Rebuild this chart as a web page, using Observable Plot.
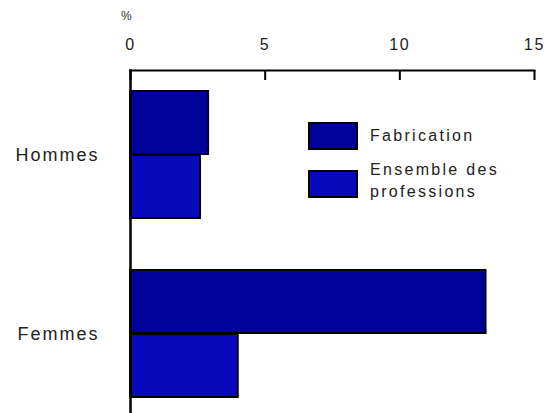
<!DOCTYPE html>
<html><head><meta charset="utf-8">
<script src="https://cdn.jsdelivr.net/npm/d3@7"></script>
<script src="https://cdn.jsdelivr.net/npm/@observablehq/plot@0.6"></script>
<style>
body{margin:0;background:#fff;font-family:"Liberation Sans",Arial,sans-serif;}
#wrap{position:relative;width:546px;height:413px;}
#wrap svg{position:absolute;left:0;top:0;}
.lg{position:absolute;color:#222;font-size:16px;letter-spacing:2.3px;line-height:22px;}
.box{position:absolute;box-sizing:border-box;border:2px solid #000;}
#pct{position:absolute;left:121px;top:9px;font-size:12px;color:#333;}
</style></head><body><div id="wrap"></div>
<script>
const groups = ["Hommes", "Femmes"];
const series = ["Fabrication", "Ensemble des professions"];
const fabrication = [2.9, 13.2];
const ensemble = [2.6, 4.0];
const xTicks = [0, 5, 10, 15];
const colors = ["#00009a", "#0808bc"];
const unitLabel = "%";

const fabData = groups.map((g, i) => ({group: g, value: fabrication[i]}));
const ensData = groups.map((g, i) => ({group: g, value: ensemble[i]}));

const chart = Plot.plot({
  width: 546,
  height: 413,
  marginTop: 70,
  marginBottom: 0,
  marginLeft: 130,
  marginRight: 12,
  style: {fontFamily: '"Liberation Sans", Arial, sans-serif', fontSize: "16px", color: "#222", background: "#fff", letterSpacing: "1.8px"},
  x: {domain: [0, 15], axis: null},
  y: {domain: groups, paddingInner: 0.289, paddingOuter: 0.0973, align: 0.571, axis: null},
  marks: [
    Plot.barX(fabData, {x: "value", y: "group", fill: colors[0], stroke: "#000", strokeWidth: 2, insetBottom: 64}),
    Plot.barX(ensData, {x: "value", y: "group", fill: colors[1], stroke: "#000", strokeWidth: 2, insetTop: 64}),
    Plot.axisX({anchor: "top", ticks: xTicks, tickSize: 0, tickPadding: 21, label: null, fill: "#222"}),
    Plot.ruleX(xTicks, {x: d => d, stroke: "#000", strokeWidth: 2, insetBottom: 333}),
    Plot.axisY({anchor: "left", tickSize: 0, tickPadding: 31, label: null, fill: "#222", fontSize: 18}),
    Plot.frame({anchor: "top", stroke: "#000", strokeWidth: 2}),
    Plot.frame({anchor: "left", stroke: "#000", strokeWidth: 2.5})
  ]
});
const wrap = document.getElementById("wrap");
wrap.appendChild(chart);
chart.querySelectorAll("g[aria-label='y-axis tick label'] text").forEach(t => t.setAttribute("letter-spacing", "2"));

const pct = document.createElement("div");
pct.id = "pct"; pct.textContent = unitLabel;
wrap.appendChild(pct);

const legendPos = [{box: [308, 122], text: [370, 125]}, {box: [308, 170], text: [370, 159]}];
series.forEach((s, i) => {
  const b = document.createElement("div");
  b.className = "box";
  b.style.left = legendPos[i].box[0] + "px";
  b.style.top = legendPos[i].box[1] + "px";
  b.style.width = "50px"; b.style.height = "28px";
  b.style.background = colors[i];
  wrap.appendChild(b);
  const t = document.createElement("div");
  t.className = "lg";
  t.style.left = legendPos[i].text[0] + "px";
  t.style.top = legendPos[i].text[1] + "px";
  t.style.width = "160px";
  t.textContent = s;
  wrap.appendChild(t);
});
</script></body></html>
